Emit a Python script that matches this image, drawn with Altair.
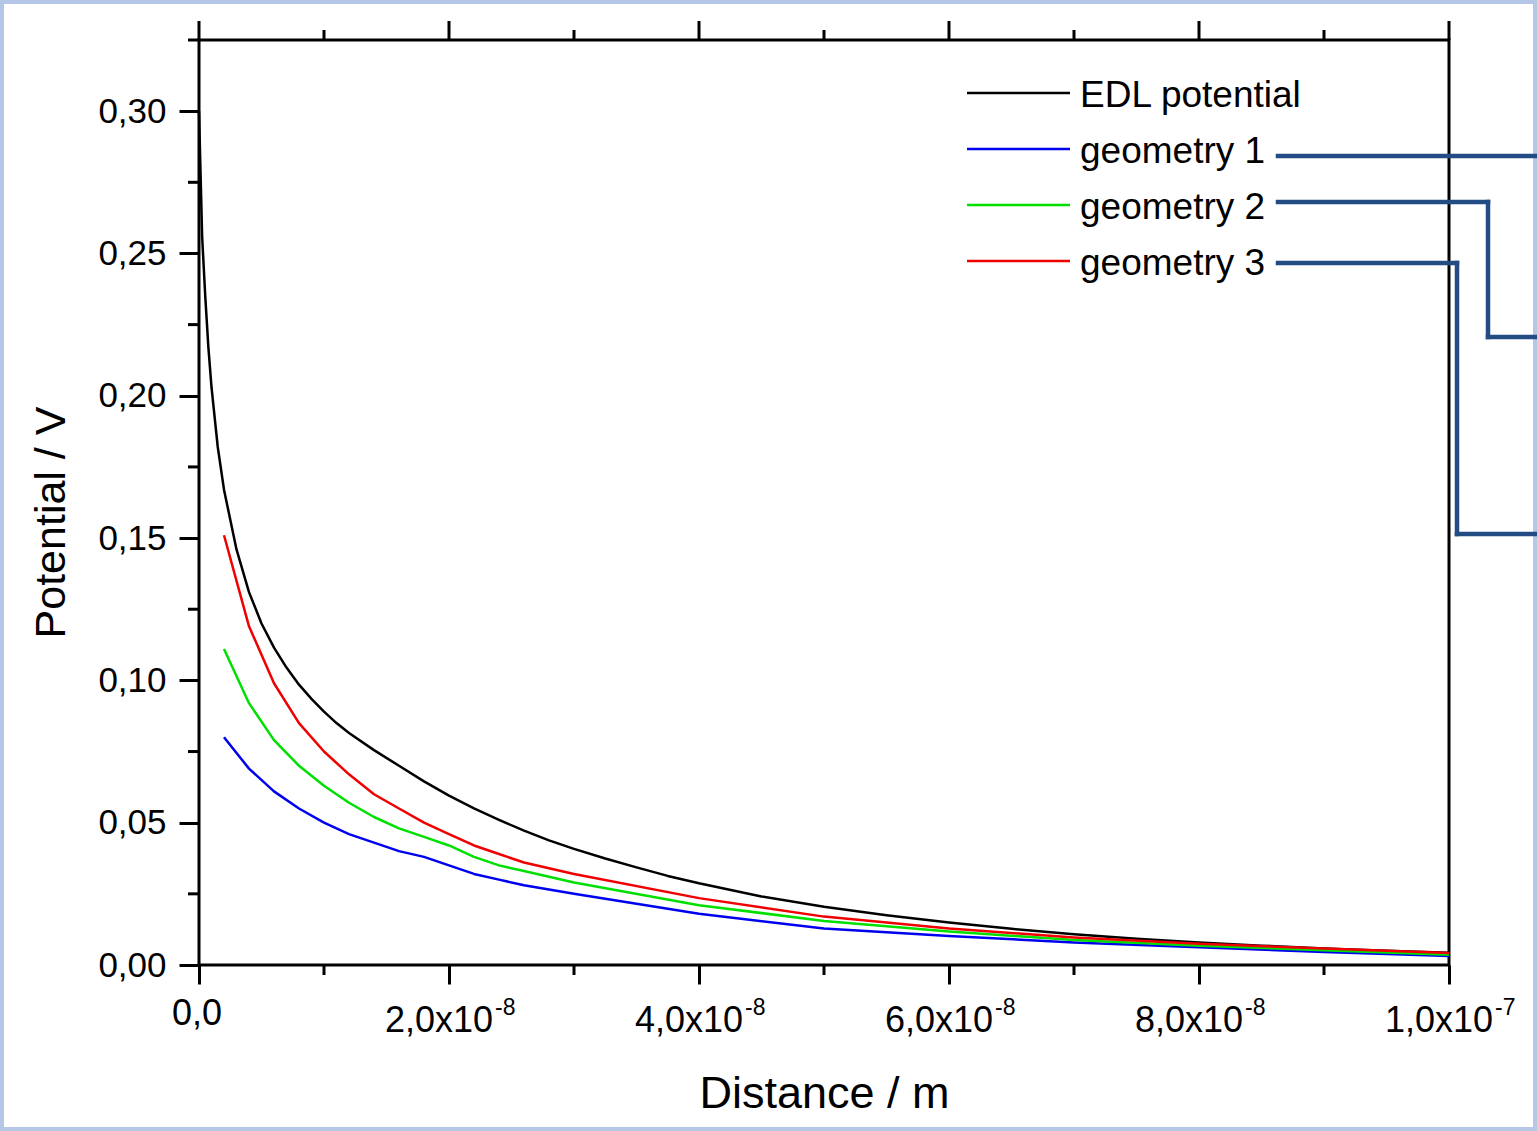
import altair as alt
import pandas as pd

# ---------------- data ----------------
edl_x_nm = [0, 0.25, 0.5, 0.75, 1, 1.5, 2, 3, 4, 5, 6, 7, 8, 9, 10, 11, 12, 14, 16, 18, 20,
            22, 24, 26, 28, 30, 32.5, 35, 37.5, 40, 45, 50, 55, 60, 65, 70, 75, 80, 85,
            90, 95, 100]
edl_v = [0.300, 0.256, 0.235, 0.217, 0.203, 0.182, 0.167, 0.146, 0.131, 0.120, 0.1115,
         0.1045, 0.0985, 0.0935, 0.089, 0.085, 0.0815, 0.0755, 0.0700, 0.0645, 0.0595,
         0.055, 0.051, 0.0472, 0.0438, 0.0408, 0.0374, 0.0343, 0.0313, 0.0287, 0.0241,
         0.0205, 0.0175, 0.0149, 0.0127, 0.0108, 0.0092, 0.0079, 0.0068, 0.0058, 0.0050,
         0.0043]

geo_x_nm = [2, 4, 6, 8, 10, 12, 14, 16, 18, 20, 22, 24, 26, 28, 30, 40, 50, 60, 70, 80, 90, 100]
geo1_v = [0.080, 0.069, 0.061, 0.055, 0.050, 0.046, 0.043, 0.040, 0.038, 0.035, 0.032,
          0.030, 0.028, 0.0265, 0.025, 0.018, 0.0128, 0.0102, 0.0079, 0.0062, 0.0046, 0.0032]
geo2_v = [0.111, 0.092, 0.079, 0.070, 0.063, 0.057, 0.052, 0.048, 0.045, 0.042, 0.038,
          0.035, 0.033, 0.031, 0.029, 0.021, 0.0155, 0.0118, 0.0088, 0.0068, 0.0052, 0.0036]
geo3_v = [0.151, 0.119, 0.099, 0.085, 0.075, 0.067, 0.060, 0.055, 0.050, 0.046, 0.042,
          0.039, 0.036, 0.034, 0.032, 0.0235, 0.017, 0.0128, 0.0097, 0.0075, 0.0058, 0.0042]

series_names = ["EDL potential", "geometry 1", "geometry 2", "geometry 3"]
series_colors = ["#000000", "#0000f0", "#00e000", "#f00000"]

x_major = [0, 2e-8, 4e-8, 6e-8, 8e-8, 1e-7]
x_minor = [1e-8, 3e-8, 5e-8, 7e-8, 9e-8]
x_mantissa = ["0,0", "2,0x10", "4,0x10", "6,0x10", "8,0x10", "1,0x10"]
x_exponent = ["", "-8", "-8", "-8", "-8", "-7"]

y_major = [0.0, 0.05, 0.10, 0.15, 0.20, 0.25, 0.30]
y_minor = [0.025, 0.075, 0.125, 0.175, 0.225, 0.275, 0.325]

X_DOMAIN = [0, 1e-7]
Y_DOMAIN = [0, 0.325]

# ---------------- tables ----------------
rows = []
for xv, v in zip(edl_x_nm, edl_v):
    rows.append({"distance": xv * 1e-9, "potential": v, "series": series_names[0]})
for name, vals in zip(series_names[1:], [geo1_v, geo2_v, geo3_v]):
    for xv, v in zip(geo_x_nm, vals):
        rows.append({"distance": xv * 1e-9, "potential": v, "series": name})
df = pd.DataFrame(rows)

xlab = pd.DataFrame({"t": x_major, "mant": x_mantissa, "exp": x_exponent})
xmaj = pd.DataFrame({"t": x_major})
xmin = pd.DataFrame({"t": x_minor})
ymin = pd.DataFrame({"v": y_minor})
one = pd.DataFrame({"a": [0]})

W, H = 1250, 925
PAD_L, PAD_T, PAD_R, PAD_B = 199, 40, 88, 166
FONT = "Liberation Sans"

xs = alt.Scale(domain=X_DOMAIN, nice=False, zero=False)
ys = alt.Scale(domain=Y_DOMAIN, nice=False, zero=False)

# ---------------- page border ----------------
border = alt.Chart(one).mark_rect(filled=False, stroke="#b4c7e7", strokeWidth=8).encode(
    x=alt.value(-PAD_L), x2=alt.value(W + PAD_R),
    y=alt.value(-PAD_T), y2=alt.value(H + PAD_B),
)

# ---------------- curves ----------------
lines = alt.Chart(df).mark_line(strokeWidth=2.5, strokeJoin="round").encode(
    x=alt.X("distance:Q", scale=xs,
            axis=alt.Axis(values=x_major, labels=False, domain=False, grid=False,
                          ticks=True, tickSize=19, tickWidth=3, tickColor="black",
                          title="Distance / m", titleFont=FONT, titleFontSize=45,
                          titleFontWeight="normal", titleColor="black",
                          titleBaseline="alphabetic", titleY=142)),
    y=alt.Y("potential:Q", scale=ys,
            axis=alt.Axis(values=y_major,
                          labelExpr="replace(format(datum.value, '.2f'), '.', ',')",
                          labelFont=FONT, labelFontSize=35, labelColor="black",
                          labelPadding=13, domain=False, grid=False,
                          tickSize=20, tickWidth=3, tickColor="black",
                          title="Potential / V", titleFont=FONT, titleFontSize=43,
                          titleFontWeight="normal", titleColor="black",
                          titleAngle=270, titleBaseline="alphabetic",
                          titleX=-135, titleY=482)),
    color=alt.Color("series:N", scale=alt.Scale(domain=series_names, range=series_colors),
                    legend=None),
    detail="series:N",
)

# ---------------- extra ticks ----------------
tick_style = dict(color="black", strokeWidth=3)
bottom_minor = alt.Chart(xmin).mark_rule(**tick_style).encode(
    x=alt.X("t:Q", scale=xs, axis=None), y=alt.value(H), y2=alt.value(H + 10))
top_major = alt.Chart(xmaj).mark_rule(**tick_style).encode(
    x=alt.X("t:Q", scale=xs, axis=None), y=alt.value(-19), y2=alt.value(0))
top_minor = alt.Chart(xmin).mark_rule(**tick_style).encode(
    x=alt.X("t:Q", scale=xs, axis=None), y=alt.value(-10), y2=alt.value(0))
left_minor = alt.Chart(ymin).mark_rule(**tick_style).encode(
    y=alt.Y("v:Q", scale=ys, axis=None), x=alt.value(-11), x2=alt.value(0))

# ---------------- x tick labels with exponents ----------------
base_lbl = alt.Chart(xlab).transform_filter("datum.exp != ''").mark_text(
    font=FONT, fontSize=36, color="black", align="right", baseline="alphabetic", dx=44
).encode(x=alt.X("t:Q", scale=xs, axis=None), y=alt.value(H + 67), text="mant:N")
exp_lbl = alt.Chart(xlab).transform_filter("datum.exp != ''").mark_text(
    font=FONT, fontSize=23, color="black", align="left", baseline="alphabetic", dx=46
).encode(x=alt.X("t:Q", scale=xs, axis=None), y=alt.value(H + 50), text="exp:N")
zero_lbl = alt.Chart(xlab).transform_filter("datum.exp == ''").mark_text(
    font=FONT, fontSize=36, color="black", align="center", baseline="alphabetic", dx=-2
).encode(x=alt.X("t:Q", scale=xs, axis=None), y=alt.value(H + 60), text="mant:N")

# ---------------- legend (manual, inside plot) ----------------
legend_layers = []
for i, (name, col) in enumerate(zip(series_names, series_colors)):
    row_y = 53 + 56 * i
    sub = pd.DataFrame({"series": [name]})
    legend_layers.append(
        alt.Chart(sub).mark_rule(color=col, strokeWidth=2.5).encode(
            x=alt.value(768), x2=alt.value(871), y=alt.value(row_y)))
    legend_layers.append(
        alt.Chart(sub).mark_text(font=FONT, fontSize=37, color="black", align="left",
                                 baseline="middle").encode(
            x=alt.value(881), y=alt.value(row_y + 3), text="series:N"))

# ---------------- connector lines to the right edge ----------------
CONN = "#244c84"
segments = [
    (1079, 116, W + PAD_R, 116),
    (1079, 162, 1289, 162), (1289, 162, 1289, 297), (1289, 297, W + PAD_R, 297),
    (1079, 223, 1258, 223), (1258, 223, 1258, 494), (1258, 494, W + PAD_R, 494),
]
conn_layers = [
    alt.Chart(one).mark_rule(color=CONN, strokeWidth=4.5, strokeCap="square").encode(
        x=alt.value(a), y=alt.value(b), x2=alt.value(c), y2=alt.value(d))
    for a, b, c, d in segments
]

chart = alt.layer(
    border, lines, bottom_minor, top_major, top_minor, left_minor,
    base_lbl, exp_lbl, zero_lbl, *legend_layers, *conn_layers
).resolve_axis(
    x="independent", y="independent"
).properties(
    width=W, height=H,
    autosize=alt.AutoSizeParams(type="none"),
    padding={"left": PAD_L, "top": PAD_T, "right": PAD_R, "bottom": PAD_B},
    background="white",
).configure(
    font=FONT
).configure_view(
    stroke="black", strokeWidth=3
)

chart.save("out.html", embed_options={"renderer": "svg", "actions": False})
